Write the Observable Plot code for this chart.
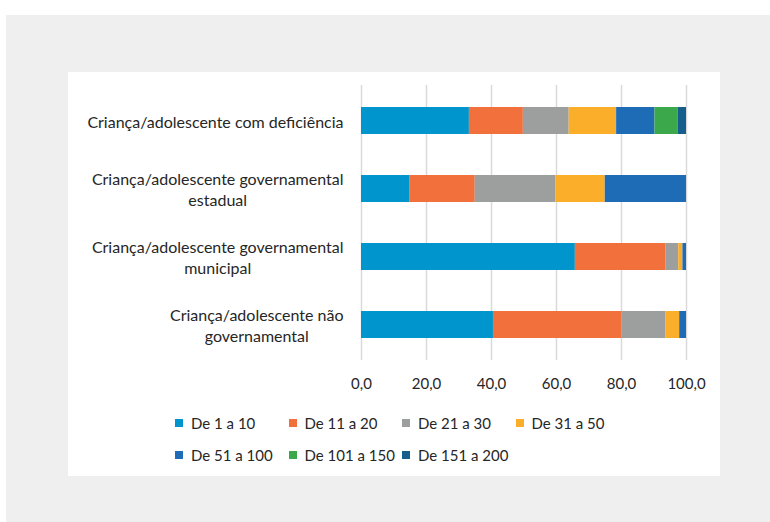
<!DOCTYPE html>
<html><head><meta charset="utf-8">
<script src="https://cdn.jsdelivr.net/npm/d3@7"></script>
<script src="https://cdn.jsdelivr.net/npm/@observablehq/plot@0.6"></script>
<style>
body{margin:0;background:#fff;width:770px;height:522px;overflow:hidden;font-family:Lato,sans-serif;position:relative;}
#bg{position:absolute;left:6px;top:15px;width:764px;height:507px;background:#efefef;}
#panel{position:absolute;left:68px;top:72px;width:652px;height:404px;background:#fff;}
#chart{position:absolute;left:0;top:0;}
#legend{position:absolute;left:107px;top:341px;display:grid;grid-template-columns:repeat(4,113.5px);row-gap:12px;}
.item{display:flex;align-items:center;height:20px;font-size:15px;color:#262626;white-space:nowrap;}
.sw{width:8px;height:8px;margin-right:8px;flex:none;}
</style></head>
<body>
<div id="bg"></div>
<div id="panel"><div id="chart"></div><div id="legend"></div></div>
<script>
const categories = [
  "Criança/adolescente com deficiência",
  "Criança/adolescente governamental\nestadual",
  "Criança/adolescente governamental\nmunicipal",
  "Criança/adolescente não\ngovernamental"
];
const series = ["De 1 a 10","De 11 a 20","De 21 a 30","De 31 a 50","De 51 a 100","De 101 a 150","De 151 a 200"];
const colors = ["#0096cd","#f2703b","#9c9f9e","#fbae2a","#1d6cb5","#3aa84b","#165e8c"];
const v1to10    = [33.2, 14.8, 65.8, 40.6];
const v11to20   = [16.6, 20.2, 27.8, 39.6];
const v21to30   = [14.1, 24.8, 4.0, 13.4];
const v31to50   = [14.6, 15.2, 1.3, 4.3];
const v51to100  = [11.8, 25.0, 1.1, 2.1];
const v101to150 = [7.1, 0, 0, 0];
const v151to200 = [2.6, 0, 0, 0];
const xTicks = [0, 20, 40, 60, 80, 100];

const valueSets = [v1to10, v11to20, v21to30, v31to50, v51to100, v101to150, v151to200];
const data = [];
series.forEach((s, i) => categories.forEach((c, j) => data.push({series: s, cat: c, value: valueSets[i][j]})));

const plot = Plot.plot({
  width: 652, height: 328,
  marginLeft: 293, marginRight: 34, marginTop: 13, marginBottom: 40,
  style: {fontFamily: "Lato, sans-serif", fontSize: "15px", color: "#262626", background: "transparent"},
  x: {domain: [0, 100]},
  y: {domain: categories, paddingInner: 0.6, paddingOuter: 0.3},
  color: {domain: series, range: colors},
  marks: [
    Plot.gridX(xTicks, {stroke: "#d9d9d9", strokeOpacity: 1, strokeWidth: 1.5}),
    Plot.barX(data, {x: "value", y: "cat", fill: "series"}),
    Plot.axisX(xTicks, {tickSize: 0, tickPadding: 18, label: null, tickFormat: d => d.toFixed(1).replace(".", ",")}),
    Plot.axisY({tickSize: 0, tickPadding: 18, label: null, lineHeight: 1.3, fontSize: 16})
  ]
});
document.getElementById("chart").append(plot);

plot.querySelectorAll('g[aria-label="y-axis tick label"] text').forEach(t => {
  const ts = [...t.querySelectorAll("tspan")];
  if (ts.length < 2) return;
  const ws = ts.map(s => s.getComputedTextLength());
  const m = Math.max(...ws);
  ts.forEach((s, i) => s.setAttribute("x", -(m - ws[i]) / 2));
});

const legend = document.getElementById("legend");
series.forEach((s, i) => {
  const it = document.createElement("div");
  it.className = "item";
  const sw = document.createElement("span");
  sw.className = "sw";
  sw.style.background = colors[i];
  it.append(sw, document.createTextNode(s));
  legend.append(it);
});
</script>
</body></html>
